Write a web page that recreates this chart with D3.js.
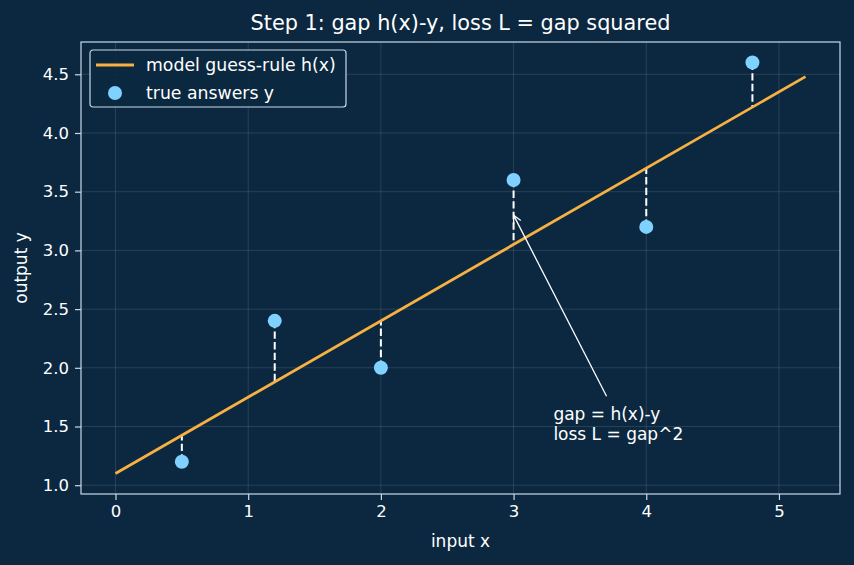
<!DOCTYPE html>
<html><head><meta charset="utf-8">
<script src="https://cdn.jsdelivr.net/npm/d3@7"></script>
<style>body{margin:0;background:#0b2840;}svg{display:block;font-family:"DejaVu Sans",sans-serif;}</style>
</head><body><svg id="c" width="854" height="565"></svg>
<script>
const xs = [0.5, 1.2, 2.0, 3.0, 4.0, 4.8];
const ys = [1.2, 2.4, 2.0, 3.6, 3.2, 4.6];
const lineX = [0, 5.2];
const intercept = 1.1, slope = 0.65;
const xTicks = [0,1,2,3,4,5];
const yTicks = [1.0,1.5,2.0,2.5,3.0,3.5,4.0,4.5];
const h = x => intercept + slope*x;

const bg = "#0b2840", fg = "#ffffff", spine = "#c9d9e8";
const svg = d3.select("#c");
svg.append("rect").attr("width",854).attr("height",565).attr("fill",bg);
const L=81,R=840,T=42,B=494;
const x = d3.scaleLinear().domain([-0.26,5.46]).range([L,R]);
const y = d3.scaleLinear().domain([0.925,4.775]).range([B,T]);

const g = svg.append("g");
// grid
g.selectAll(".gx").data(xTicks).join("line").attr("x1",d=>x(d)).attr("x2",d=>x(d)).attr("y1",T).attr("y2",B)
 .attr("stroke","#ffffff").attr("stroke-opacity",0.15).attr("stroke-width",0.8);
g.selectAll(".gy").data(yTicks).join("line").attr("y1",d=>y(d)).attr("y2",d=>y(d)).attr("x1",L).attr("x2",R)
 .attr("stroke","#ffffff").attr("stroke-opacity",0.15).attr("stroke-width",0.8);

// axes
const xa = svg.append("g").attr("transform",`translate(0,${B})`).call(d3.axisBottom(x).tickValues(xTicks).tickFormat(d3.format("d")).tickSize(6).tickPadding(5));
const ya = svg.append("g").attr("transform",`translate(${L},0)`).call(d3.axisLeft(y).tickValues(yTicks).tickFormat(d3.format(".1f")).tickSize(6).tickPadding(6));
[xa,ya].forEach(a=>{a.select(".domain").remove();a.selectAll("line").attr("stroke",spine).attr("stroke-width",1.2);
 a.selectAll("text").attr("fill",fg).attr("font-size",16.5).attr("font-family","DejaVu Sans");});
svg.append("rect").attr("x",L).attr("y",T).attr("width",R-L).attr("height",B-T).attr("fill","none").attr("stroke",spine).attr("stroke-width",1.2);

// dashed gaps
g.selectAll(".gap").data(xs).join("line").attr("x1",d=>x(d)).attr("x2",d=>x(d))
 .attr("y1",(d,i)=>y(ys[i])).attr("y2",d=>y(h(d)))
 .attr("stroke","#ffffff").attr("stroke-width",2).attr("stroke-dasharray","7.4,3.2");

// model line
g.append("path").datum(lineX).attr("d",d3.line().x(d=>x(d)).y(d=>y(h(d))))
 .attr("stroke","#f7b142").attr("stroke-width",2.8).attr("fill","none");

// points
g.selectAll(".pt").data(xs).join("circle").attr("cx",d=>x(d)).attr("cy",(d,i)=>y(ys[i])).attr("r",7).attr("fill","#7fd1ff");

// annotation
const ax=3.0, ay=3.3, tx=3.3, ty=1.4;
const sx = x(ax)+93, sy = y(ty)-42;
svg.append("defs").append("marker").attr("id","ah").attr("viewBox","0 0 10 10").attr("refX",9).attr("refY",5)
 .attr("markerWidth",10).attr("markerHeight",10).attr("markerUnits","userSpaceOnUse").attr("orient","auto")
 .append("path").attr("d","M1,1 L9,5 L1,9").attr("fill","none").attr("stroke","#fff").attr("stroke-width",1.3);
svg.append("line").attr("x1",sx).attr("y1",sy).attr("x2",x(ax)).attr("y2",y(ay)).attr("stroke","#fff").attr("stroke-width",1.3).attr("marker-end","url(#ah)");
svg.append("text").attr("x",x(tx)).attr("y",y(ty)-18.5).attr("fill",fg).attr("font-size",17).text("gap = h(x)-y");
svg.append("text").attr("x",x(tx)).attr("y",y(ty)+1.5).attr("fill",fg).attr("font-size",17).text("loss L = gap^2");

// title & labels
svg.append("text").attr("x",(L+R)/2).attr("y",30).attr("text-anchor","middle").attr("fill",fg).attr("font-size",20.8).text("Step 1: gap h(x)-y, loss L = gap squared");
svg.append("text").attr("x",(L+R)/2).attr("y",547).attr("text-anchor","middle").attr("fill",fg).attr("font-size",17).text("input x");
svg.append("text").attr("transform",`translate(27,${(T+B)/2}) rotate(-90)`).attr("text-anchor","middle").attr("fill",fg).attr("font-size",17).text("output y");

// legend
const lg = svg.append("g").attr("transform","translate(90,50)");
lg.append("rect").attr("width",256).attr("height",57).attr("rx",3).attr("fill",bg).attr("fill-opacity",0.85).attr("stroke",spine).attr("stroke-width",1.2);
lg.append("line").attr("x1",6).attr("x2",44).attr("y1",15).attr("y2",15).attr("stroke","#f7b142").attr("stroke-width",2.8);
lg.append("circle").attr("cx",25).attr("cy",43).attr("r",7).attr("fill","#7fd1ff");
lg.append("text").attr("x",56).attr("y",21).attr("fill",fg).attr("font-size",17.3).text("model guess-rule h(x)");
lg.append("text").attr("x",56).attr("y",49).attr("fill",fg).attr("font-size",17.3).text("true answers y");
</script></body></html>
